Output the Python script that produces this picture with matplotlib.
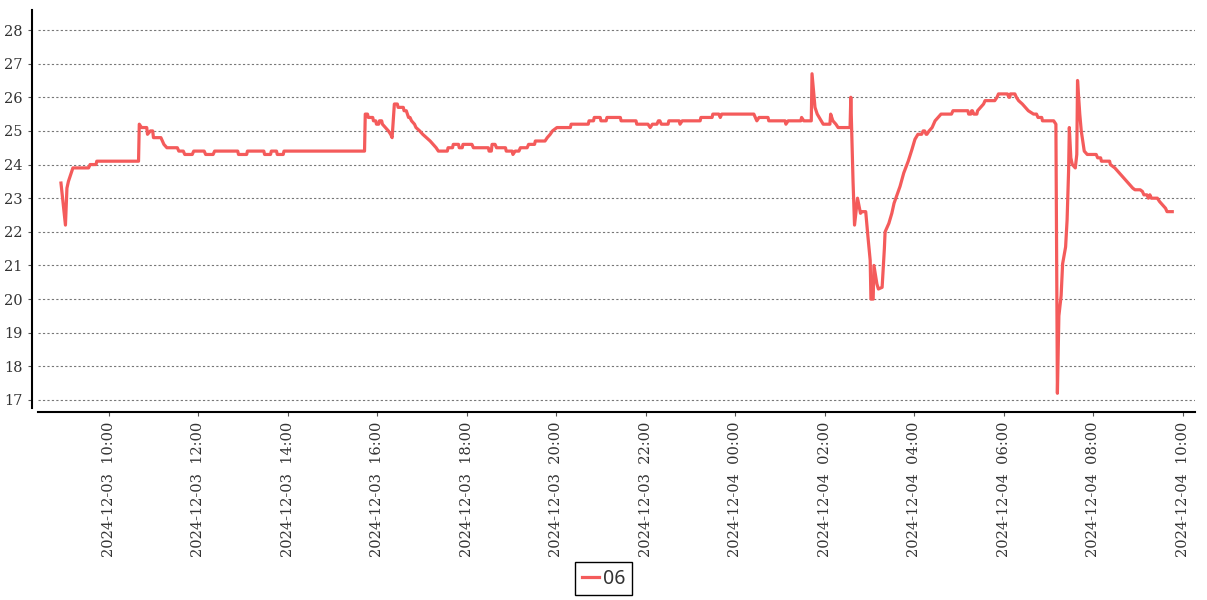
import matplotlib.pyplot as plt
import matplotlib.dates as mdates
import pandas as pd

# readings of sensor "06", 2024-12-03 -> 2024-12-04
series_name = '06'

day1_times = ['08:56', '09:02', '09:04', '09:06', '09:09', '09:12', '09:33', '09:35', '09:43', '09:44',
              '10:40', '10:41', '10:44', '10:51', '10:52', '10:56', '10:59', '11:00', '11:10', '11:12',
              '11:14', '11:18', '11:32', '11:34', '11:40', '11:42', '11:52', '11:54', '12:08', '12:10',
              '12:20', '12:22', '12:53', '12:54', '13:05', '13:06', '13:28', '13:29', '13:37', '13:38',
              '13:45', '13:46', '13:54', '13:55', '15:43', '15:44', '15:47', '15:48', '15:54', '15:55',
              '15:58', '15:59', '16:02', '16:03', '16:06', '16:07', '16:11', '16:15', '16:18', '16:20',
              '16:23', '16:27', '16:28', '16:35', '16:36', '16:39', '16:42', '16:44', '16:46', '16:50',
              '16:52', '16:57', '17:01', '17:06', '17:11', '17:15', '17:19', '17:22', '17:34', '17:35',
              '17:41', '17:42', '17:49', '17:50', '17:54', '17:55', '18:07', '18:09', '18:29', '18:30',
              '18:33', '18:34', '18:38', '18:40', '18:52', '18:53', '19:01', '19:02', '19:05', '19:10',
              '19:12', '19:21', '19:23', '19:31', '19:32', '19:45', '19:48', '19:52', '19:55', '20:01',
              '20:19', '20:20', '20:43', '20:44', '20:50', '20:51', '20:59', '21:00', '21:07', '21:08',
              '21:26', '21:27', '21:47', '21:48', '22:03', '22:06', '22:09', '22:15', '22:17', '22:19',
              '22:21', '22:30', '22:31', '22:45', '22:46', '22:49', '23:13', '23:14', '23:29', '23:30',
              '23:38', '23:40', '23:42']
day1_temps = [23.45, 22.2, 23.3, 23.5, 23.7, 23.9, 23.9, 24.0, 24.0, 24.1,
              24.1, 25.2, 25.1, 25.1, 24.9, 25.0, 25.0, 24.8, 24.8, 24.7,
              24.6, 24.5, 24.5, 24.4, 24.4, 24.3, 24.3, 24.4, 24.4, 24.3,
              24.3, 24.4, 24.4, 24.3, 24.3, 24.4, 24.4, 24.3, 24.3, 24.4,
              24.4, 24.3, 24.3, 24.4, 24.4, 25.5, 25.5, 25.4, 25.4, 25.3,
              25.3, 25.2, 25.2, 25.3, 25.3, 25.2, 25.1, 25.0, 24.9, 24.8,
              25.8, 25.8, 25.7, 25.7, 25.6, 25.6, 25.4, 25.4, 25.3, 25.2,
              25.1, 25.0, 24.9, 24.8, 24.7, 24.6, 24.5, 24.4, 24.4, 24.5,
              24.5, 24.6, 24.6, 24.5, 24.5, 24.6, 24.6, 24.5, 24.5, 24.4,
              24.4, 24.6, 24.6, 24.5, 24.5, 24.4, 24.4, 24.3, 24.4, 24.4,
              24.5, 24.5, 24.6, 24.6, 24.7, 24.7, 24.8, 24.9, 25.0, 25.1,
              25.1, 25.2, 25.2, 25.3, 25.3, 25.4, 25.4, 25.3, 25.3, 25.4,
              25.4, 25.3, 25.3, 25.2, 25.2, 25.1, 25.2, 25.2, 25.3, 25.3,
              25.2, 25.2, 25.3, 25.3, 25.2, 25.3, 25.3, 25.4, 25.4, 25.5,
              25.5, 25.4, 25.5]

day2_times = ['00:25', '00:27', '00:29', '00:32', '00:44', '00:45', '01:07', '01:08', '01:11', '01:28',
              '01:29', '01:32', '01:42', '01:43', '01:47', '01:50', '01:54', '01:58', '02:07', '02:08',
              '02:11', '02:15', '02:18', '02:34', '02:35', '02:38', '02:40', '02:44', '02:48', '02:50',
              '02:55', '02:58', '03:01', '03:02', '03:05', '03:06', '03:10', '03:12', '03:17', '03:20',
              '03:21', '03:23', '03:26', '03:30', '03:33', '03:37', '03:41', '03:46', '03:52', '03:57',
              '04:01', '04:05', '04:10', '04:12', '04:14', '04:16', '04:17', '04:20', '04:24', '04:28',
              '04:32', '04:36', '04:50', '04:52', '05:12', '05:13', '05:16', '05:17', '05:18', '05:20',
              '05:24', '05:25', '05:29', '05:33', '05:35', '05:48', '05:51', '05:53', '06:05', '06:07',
              '06:08', '06:09', '06:15', '06:17', '06:20', '06:25', '06:29', '06:33', '06:40', '06:44',
              '06:46', '06:51', '06:52', '07:07', '07:10', '07:12', '07:14', '07:17', '07:19', '07:23',
              '07:25', '07:27', '07:28', '07:30', '07:32', '07:36', '07:38', '07:39', '07:42', '07:44',
              '07:46', '07:48', '07:52', '08:04', '08:06', '08:10', '08:11', '08:22', '08:23', '08:29',
              '08:33', '08:37', '08:41', '08:45', '08:49', '08:53', '08:56', '09:03', '09:06', '09:08',
              '09:12', '09:14', '09:16', '09:18', '09:26', '09:29', '09:33', '09:37', '09:39', '09:46']
day2_temps = [25.5, 25.4, 25.3, 25.4, 25.4, 25.3, 25.3, 25.2, 25.3, 25.3,
              25.4, 25.3, 25.3, 26.7, 25.7, 25.5, 25.35, 25.2, 25.2, 25.5,
              25.3, 25.2, 25.1, 25.1, 26.0, 23.5, 22.2, 23.0, 22.55, 22.6,
              22.6, 21.85, 21.15, 20.0, 20.0, 21.0, 20.45, 20.3, 20.35, 21.5,
              22.0, 22.1, 22.25, 22.55, 22.85, 23.1, 23.35, 23.75, 24.1, 24.45,
              24.75, 24.9, 24.9, 25.0, 25.0, 24.9, 24.9, 25.0, 25.1, 25.3,
              25.4, 25.5, 25.5, 25.6, 25.6, 25.5, 25.5, 25.6, 25.6, 25.5,
              25.5, 25.6, 25.7, 25.8, 25.9, 25.9, 26.0, 26.1, 26.1, 26.0,
              26.0, 26.1, 26.1, 26.0, 25.9, 25.8, 25.7, 25.6, 25.5, 25.5,
              25.4, 25.4, 25.3, 25.3, 25.2, 17.2, 19.5, 20.1, 21.05, 21.55,
              22.35, 23.8, 25.1, 24.2, 24.0, 23.9, 24.3, 26.5, 25.5, 25.0,
              24.7, 24.4, 24.3, 24.3, 24.2, 24.2, 24.1, 24.1, 24.0, 23.9,
              23.8, 23.7, 23.6, 23.5, 23.4, 23.3, 23.25, 23.25, 23.2, 23.1,
              23.1, 23.0, 23.1, 23.0, 23.0, 22.9, 22.8, 22.7, 22.6, 22.6]

y_ticks = list(range(17, 29))

times = pd.to_datetime(['2024-12-03 ' + t for t in day1_times] +
                       ['2024-12-04 ' + t for t in day2_times])
temps = day1_temps + day2_temps

plt.rcParams['font.family'] = 'DejaVu Serif'

fig = plt.figure(figsize=(12.07, 6.0), dpi=100)
ax = fig.add_axes([38 / 1207, 1 - 408 / 600, (1195 - 38) / 1207, (408 - 10) / 600])

ax.plot(times, temps, color='#f45b5b', lw=2.3, label=series_name)

ax.set_xlim(pd.Timestamp('2024-12-03 08:25:12'), pd.Timestamp('2024-12-04 10:16:30'))
ax.set_ylim(16.762, 28.595)
ax.set_yticks(y_ticks)
ax.xaxis.set_major_locator(mdates.HourLocator(byhour=range(0, 24, 2)))
ax.xaxis.set_major_formatter(mdates.DateFormatter('%Y-%m-%d  %H:%M'))

ax.tick_params(axis='both', labelsize=10.5, labelcolor='#333333', length=3, width=0.8,
               color='#555555', pad=4)
ax.tick_params(axis='x', labelrotation=90)

ax.grid(axis='y', color='#777777', linestyle=(0, (2, 2)), lw=0.8)
ax.spines['top'].set_visible(False)
ax.spines['right'].set_visible(False)
ax.spines['left'].set_position(('outward', 4))
ax.spines['bottom'].set_position(('outward', 3))
ax.spines['left'].set_linewidth(1.5)
ax.spines['bottom'].set_linewidth(1.5)

leg = fig.legend(loc='lower center', bbox_to_anchor=(0.5, 0.002), frameon=True, fancybox=False,
                 edgecolor='black', framealpha=1, handlelength=0.9, handletextpad=0.2,
                 borderpad=0.32, borderaxespad=0.2, prop={'family': 'Noto Sans', 'size': 14})
leg.get_frame().set_linewidth(1.0)
for txt in leg.get_texts():
    txt.set_color('#333333')

fig.savefig('out.png', dpi=100)
